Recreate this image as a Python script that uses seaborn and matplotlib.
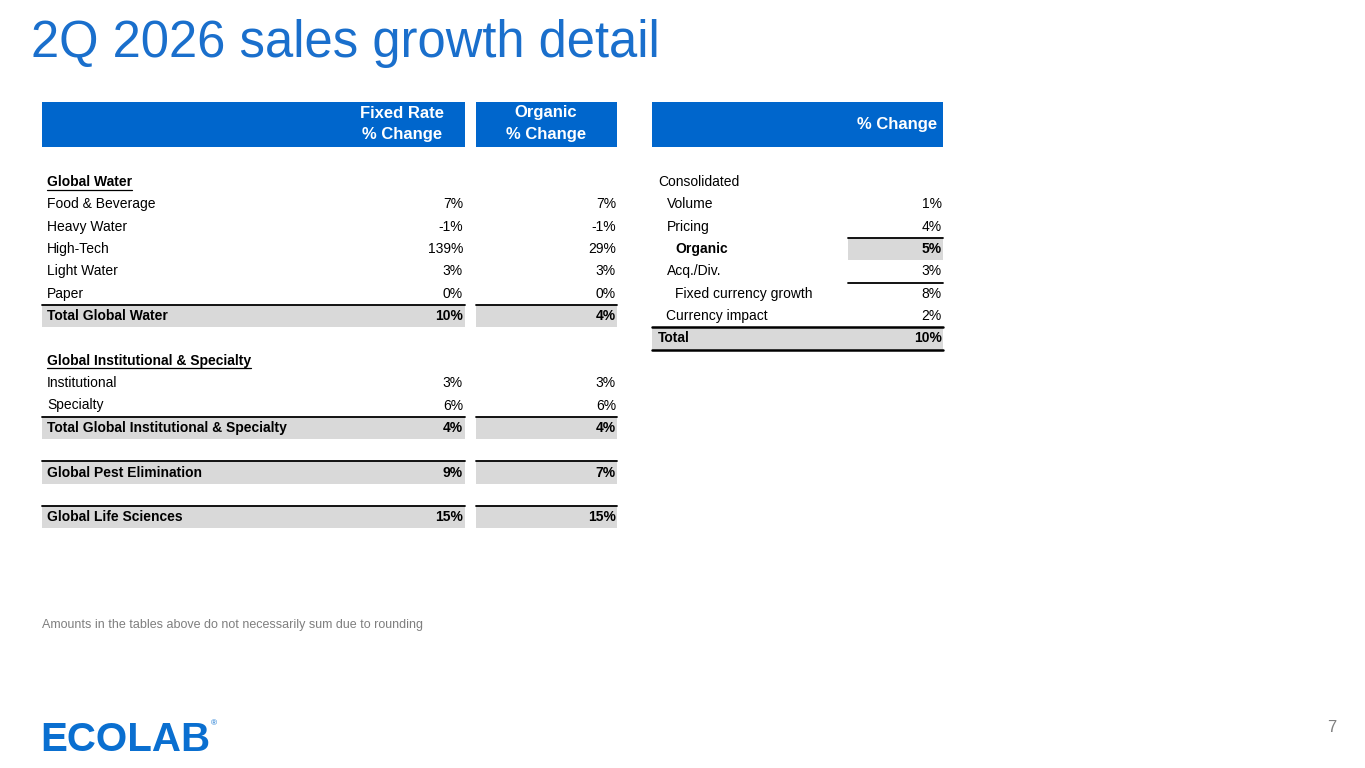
import matplotlib
matplotlib.use("Agg")
import matplotlib.pyplot as plt
import seaborn as sns

sns.set_theme(style="white")
plt.rcParams['font.family'] = ['Liberation Sans', 'DejaVu Sans']

# left table: segment rows
seg_labels = ['Global Water', 'Food & Beverage', 'Heavy Water', 'High-Tech', 'Light Water', 'Paper',
              'Total Global Water', '',
              'Global Institutional & Specialty', 'Institutional', 'Specialty',
              'Total Global Institutional & Specialty', '',
              'Global Pest Elimination', '', 'Global Life Sciences']
seg_kind = ['head', 'row', 'row', 'row', 'row', 'row', 'total', 'blank',
            'head', 'row', 'row', 'total', 'blank', 'total', 'blank', 'total']
fixed_rate = ['', '7%', '-1%', '139%', '3%', '0%', '10%', '',
              '', '3%', '6%', '4%', '', '9%', '', '15%']
organic = ['', '7%', '-1%', '29%', '3%', '0%', '4%', '',
           '', '3%', '6%', '4%', '', '7%', '', '15%']

# right table: consolidated bridge
cons_labels = ['Consolidated', 'Volume', 'Pricing', 'Organic', 'Acq./Div.',
               'Fixed currency growth', 'Currency impact', 'Total']
cons_indent = [0, 1, 1, 2, 1, 2, 1, 0]
cons_values = ['', '1%', '4%', '5%', '3%', '8%', '2%', '10%']

BLUE = '#0066cc'
GRAY = '#d9d9d9'
fs = 10

fig = plt.figure(figsize=(13.65, 7.68), dpi=100)
ax = fig.add_axes([0, 0, 1, 1])
ax.set_xlim(0, 1365)
ax.set_ylim(768, 0)
ax.axis('off')

ax.text(31, 44, '2Q 2026 sales growth detail', fontsize=36.5, color='#1a6fcc', va='center', ha='left')

# headers
ax.fill_between([42, 465], 102, 147, color=BLUE, lw=0)
ax.fill_between([476, 617], 102, 147, color=BLUE, lw=0)
ax.fill_between([652, 943], 102, 147, color=BLUE, lw=0)
hfs = 12
ax.text(402, 113, 'Fixed Rate', color='white', fontsize=hfs, weight='bold', ha='center', va='center')
ax.text(402, 135, '% Change', color='white', fontsize=hfs, weight='bold', ha='center', va='center')
ax.text(546, 113, 'Organic', color='white', fontsize=hfs, weight='bold', ha='center', va='center')
ax.text(546, 135, '% Change', color='white', fontsize=hfs, weight='bold', ha='center', va='center')
ax.text(937, 124, '% Change', color='white', fontsize=hfs, weight='bold', ha='right', va='center')

y0, dy = 182, 22.35
underline = []
for i, (lab, kind, fr, og) in enumerate(zip(seg_labels, seg_kind, fixed_rate, organic)):
    y = y0 + dy * i
    if kind == 'blank':
        continue
    bold = kind in ('head', 'total')
    if kind == 'total':
        ax.fill_between([42, 465], y - dy / 2, y + dy / 2, color=GRAY, lw=0)
        ax.fill_between([476, 617], y - dy / 2, y + dy / 2, color=GRAY, lw=0)
        ax.plot([42, 465], [y - dy / 2] * 2, color='black', lw=1.3)
        ax.plot([476, 617], [y - dy / 2] * 2, color='black', lw=1.3)
    t = ax.text(47, y, lab, fontsize=fs, weight='bold' if bold else 'normal', va='center', ha='left', color='black')
    if kind == 'head':
        underline.append((t, y))
    ax.text(463, y, fr, fontsize=fs, weight='bold' if bold else 'normal', va='center', ha='right', color='black')
    ax.text(616, y, og, fontsize=fs, weight='bold' if bold else 'normal', va='center', ha='right', color='black')

for i, (lab, ind, val) in enumerate(zip(cons_labels, cons_indent, cons_values)):
    y = y0 + dy * i
    bold = lab in ('Organic', 'Total')
    if lab == 'Organic':
        ax.fill_between([848, 943], y - dy / 2, y + dy / 2, color=GRAY, lw=0)
        ax.plot([848, 943], [y - dy / 2] * 2, color='black', lw=1.3)
    if lab == 'Fixed currency growth':
        ax.plot([848, 943], [y - dy / 2] * 2, color='black', lw=1.3)
    if lab == 'Total':
        ax.fill_between([652, 943], y - dy / 2, y + dy / 2, color=GRAY, lw=0)
        ax.plot([652, 943], [y - dy / 2] * 2, color='black', lw=1.8)
        ax.plot([652, 943], [y + dy / 2] * 2, color='black', lw=1.8)
    ax.text(658 + 8.5 * ind, y, lab, fontsize=fs, weight='bold' if bold else 'normal', va='center', ha='left', color='black')
    ax.text(942, y, val, fontsize=fs, weight='bold' if bold else 'normal', va='center', ha='right', color='black')

# underline the section headers
fig.canvas.draw()
inv = ax.transData.inverted()
for t, y in underline:
    bb = t.get_window_extent()
    (x1, _), (x2, _) = inv.transform([(bb.x0, bb.y0), (bb.x1, bb.y0)])
    ax.plot([x1, x2], [y + 7.5] * 2, color='black', lw=0.9)

ax.text(42, 625, 'Amounts in the tables above do not necessarily sum due to rounding',
        fontsize=9, color='#7f7f7f', va='center', ha='left')
ax.text(1336, 728, '7', fontsize=12, color='#7f7f7f', va='center', ha='right')
ax.text(40, 740, 'ECOLAB', fontsize=29, weight='bold', color='#0a6fd0', va='center', ha='left')
ax.text(211, 724, '®', fontsize=6, color='#0a6fd0', va='center', ha='left')

fig.savefig('out.png', dpi=100)
